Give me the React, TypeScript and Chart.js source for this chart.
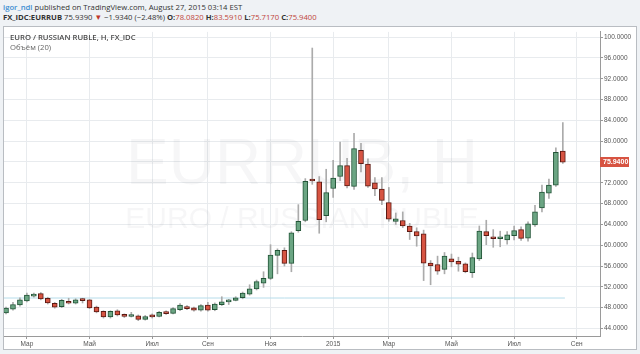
import React, { useEffect, useRef } from 'react';
import { Chart, registerables } from 'chart.js';

Chart.register(...registerables);

// Weekly candles, EUR/RUB, week of 2014-02-10 .. week of 2015-08-24 (index = week number)
const weekStarts = Array.from({ length: 81 }, (_, i) => `W${i}`);

const opens = [
  47.0, 47.7, 48.5, 49.3, 50.2, 50.7, 49.8, 48.85, 48.2, 49.2,
  48.85, 49.5, 49.5, 48.1, 47.3, 46.2, 47.4, 46.7, 46.3, 46.45,
  45.75, 46.6, 46.3, 47.15, 46.9, 47.6, 48.2, 47.97, 47.5, 48.5,
  47.6, 48.55, 49.1, 49.4, 49.9, 50.6, 51.6, 52.7, 53.6, 58.05,
  59.0, 56.5, 62.8, 64.75, 72.5, 72.2, 65.7, 70.9, 73.2, 75.3,
  71.3, 78.25, 75.6, 72.0, 70.8, 68.2, 64.55, 64.75, 63.7, 62.6,
  62.2, 56.55, 56.3, 55.35, 57.4, 56.9, 56.4, 54.7, 57.35, 62.6,
  61.5, 61.25, 61.0, 61.85, 63.0, 61.35, 63.9, 67.15, 70.0, 71.55,
  78.08,
];
const highs = [
  48.1, 49.0, 49.9, 50.8, 50.8, 50.9, 50.0, 49.0, 49.6, 49.8,
  49.7, 49.8, 49.6, 48.3, 47.4, 47.4, 47.6, 46.8, 47.1, 46.6,
  46.5, 46.8, 47.3, 47.4, 48.0, 48.8, 48.4, 48.1, 48.6, 49.0,
  48.9, 50.1, 49.6, 50.1, 51.0, 52.4, 53.3, 54.9, 60.1, 59.3,
  59.5, 62.6, 67.8, 72.8, 97.9, 73.2, 74.6, 76.3, 79.8, 76.7,
  81.5, 79.6, 76.6, 73.0, 73.0, 71.1, 66.2, 66.4, 64.2, 63.35,
  62.9, 57.05, 57.9, 58.6, 58.3, 57.7, 56.6, 58.5, 63.7, 64.8,
  63.0, 62.7, 62.6, 63.7, 63.55, 64.5, 67.65, 71.55, 72.7, 78.7,
  83.59,
];
const lows = [
  46.8, 47.5, 48.3, 49.1, 50.0, 49.5, 48.7, 47.9, 48.0, 48.7,
  48.7, 48.9, 47.8, 47.0, 46.0, 46.0, 46.4, 46.1, 46.2, 45.5,
  45.6, 46.0, 46.2, 46.7, 46.8, 47.4, 47.6, 47.3, 47.3, 47.3,
  47.4, 48.4, 48.6, 49.3, 49.7, 50.4, 51.4, 51.9, 53.4, 54.5,
  56.0, 54.9, 62.5, 64.5, 71.7, 62.3, 64.5, 69.2, 72.4, 71.0,
  70.7, 74.1, 71.1, 69.5, 67.8, 64.6, 64.0, 63.4, 61.1, 59.8,
  53.2, 52.4, 54.4, 54.5, 55.85, 55.0, 54.7, 53.8, 57.05, 60.1,
  59.6, 59.7, 60.2, 61.0, 60.9, 60.8, 63.6, 66.4, 69.0, 71.3,
  75.72,
];
const closes = [
  47.9, 48.6, 49.5, 50.4, 50.6, 49.7, 48.9, 48.1, 49.4, 48.85,
  49.5, 49.35, 47.97, 47.2, 46.2, 47.3, 46.6, 46.3, 46.5, 45.75,
  46.3, 46.2, 47.1, 46.85, 47.8, 48.5, 47.8, 47.5, 48.4, 47.5,
  48.7, 49.1, 49.3, 49.9, 50.8, 51.6, 53.0, 53.65, 58.1, 59.0,
  56.5, 62.4, 64.6, 72.3, 72.35, 64.9, 70.1, 72.9, 75.3, 71.4,
  78.55, 75.65, 71.35, 70.8, 68.6, 65.0, 65.05, 63.7, 62.6, 61.8,
  56.55, 56.0, 55.0, 57.9, 56.8, 56.35, 54.9, 57.6, 62.7, 61.85,
  61.25, 61.45, 62.0, 62.8, 61.3, 64.1, 66.4, 70.2, 71.55, 77.87,
  75.94,
];

const monthTickWeeks = [3, 12, 21, 29, 38, 47, 55, 64, 73, 82];
const monthTickLabels = ['Мар', 'Май', 'Июл', 'Сен', 'Ноя', '2015', 'Мар', 'Май', 'Июл', 'Сен'];
const priceTicks = [44, 48, 52, 56, 60, 64, 68, 72, 76, 80, 84, 88, 92, 96, 100];
const lastPrice = 75.94;
const levelValue = 49.85;
const levelSpan = [-0.3, 80.3];

const UP_FILL = '#6ba583';
const UP_LINE = '#225437';
const DN_FILL = '#d75442';
const DN_LINE = '#5b1a13';
const AXIS_FONT = '"Liberation Sans", Arial, sans-serif';

export default function App() {
  const ref = useRef<HTMLCanvasElement>(null);

  useEffect(() => {
    const canvas = ref.current!;
    const up = closes.map((c, i) => c >= opens[i]);
    const bodies = opens.map((o, i) => ({ x: i, y: [o, closes[i]] }));
    const wicks = lows.map((l, i) => ({ x: i, y: [l, highs[i]] }));

    const watermark = {
      id: 'watermark',
      beforeDatasetsDraw(chart: any) {
        const { ctx, chartArea } = chart;
        const cx = (chartArea.left + chartArea.right) / 2;
        ctx.save();
        ctx.fillStyle = 'rgba(90,100,110,0.055)';
        ctx.textAlign = 'center';
        ctx.textBaseline = 'alphabetic';
        ctx.font = '64px "Liberation Sans", Arial, sans-serif';
        ctx.fillText('EURRUB, H', cx, 157);
        ctx.font = '30px "Liberation Sans", Arial, sans-serif';
        ctx.fillText('EURO / RUSSIAN RUBLE', cx, 201);
        ctx.restore();
      },
    };

    const priceTag = {
      id: 'priceTag',
      afterDraw(chart: any) {
        const { ctx, chartArea, scales } = chart;
        const y = scales.y.getPixelForValue(lastPrice);
        const x0 = chartArea.right;
        ctx.save();
        ctx.fillStyle = DN_FILL;
        ctx.fillRect(x0, Math.round(y) - 5, 29, 10);
        ctx.fillStyle = '#ffffff';
        ctx.font = 'bold 7px "Liberation Sans", Arial, sans-serif';
        ctx.textAlign = 'left';
        ctx.textBaseline = 'middle';
        ctx.fillText(lastPrice.toFixed(4), x0 + 3, Math.round(y) + 0.5);
        ctx.restore();
      },
    };

    const chart = new Chart(canvas, {
      type: 'bar',
      data: {
        labels: weekStarts,
        datasets: [
          {
            type: 'line',
            data: levelSpan.map((x) => ({ x, y: levelValue })),
            borderColor: '#b6dcea',
            borderWidth: 1,
            pointRadius: 0,
            order: 3,
          } as any,
          {
            data: wicks,
            backgroundColor: '#ababab',
            barThickness: 1,
            grouped: false,
            order: 2,
          } as any,
          {
            data: bodies,
            backgroundColor: up.map((u) => (u ? UP_FILL : DN_FILL)),
            borderColor: up.map((u) => (u ? UP_LINE : DN_LINE)),
            borderWidth: 1,
            borderSkipped: false,
            barThickness: 5,
            minBarLength: 2,
            grouped: false,
            order: 1,
          } as any,
        ],
      },
      options: {
        responsive: false,
        animation: false,
        devicePixelRatio: 1,
        layout: { padding: 0 },
        plugins: { legend: { display: false }, tooltip: { enabled: false } },
        scales: {
          x: {
            type: 'linear',
            min: -0.29,
            max: 85.34,
            offset: false,
            afterBuildTicks: (scale: any) => {
              scale.ticks = monthTickWeeks.map((v) => ({ value: v }));
            },
            afterFit: (scale: any) => {
              scale.height = 13;
            },
            grid: { color: '#e8ebee', offset: false, tickLength: 3, tickColor: '#999' },
            border: { color: '#9a9a9a', width: 1 },
            ticks: {
              autoSkip: false,
              maxRotation: 0,
              padding: 1,
              color: '#555',
              font: { family: AXIS_FONT, size: 6.5 },
              callback: (_v: any, i: number) => monthTickLabels[i],
            },
          },
          y: {
            type: 'linear',
            position: 'right',
            min: 42.55,
            max: 101.0,
            afterBuildTicks: (scale: any) => {
              scale.ticks = priceTicks.map((v) => ({ value: v }));
            },
            afterFit: (scale: any) => {
              scale.width = 36;
            },
            grid: { color: '#e8ebee', tickLength: 3, tickColor: '#999' },
            border: { color: '#9a9a9a', width: 1 },
            ticks: {
              padding: 1,
              color: '#555',
              font: { family: AXIS_FONT, size: 6.5 },
              callback: (v: any) => Number(v).toFixed(4),
            },
          },
        },
      } as any,
      plugins: [watermark, priceTag],
    });
    return () => chart.destroy();
  }, []);

  const txt: React.CSSProperties = {
    position: 'absolute',
    whiteSpace: 'nowrap',
    fontFamily: '"Open Sans", sans-serif',
    fontSize: 7.7,
    lineHeight: '10px',
  };

  return (
    <div style={{ position: 'fixed', left: 0, top: 0, width: 640, height: 354, background: '#eff2f5', overflow: 'hidden' }}>
      <div style={{ ...txt, left: 3, top: 2, color: '#333' }}>
        <span style={{ color: '#3f8fd2', fontWeight: 600 }}>igor_ndl</span> published on TradingView.com, August 27, 2015 03:14 EST
      </div>
      <div style={{ ...txt, left: 3, top: 12, color: '#333', fontWeight: 700 }}>
        FX_IDC:EURRUB <span style={{ fontWeight: 400 }}>75.9390</span>{' '}
        <span style={{ color: '#c0392b' }}>▼</span> <span style={{ fontWeight: 400 }}>−1.9340 (−2.48%)</span>{' '}
        O:<span style={{ color: '#c0453a', fontWeight: 400 }}>78.0820</span> H:<span style={{ color: '#c0453a', fontWeight: 400 }}>83.5910</span>{' '}
        L:<span style={{ color: '#c0453a', fontWeight: 400 }}>75.7170</span> C:<span style={{ color: '#c0453a', fontWeight: 400 }}>75.9400</span>
      </div>
      <div style={{ position: 'absolute', left: 3, top: 26, width: 634, height: 324, boxSizing: 'border-box', border: '1px solid #b9bdc2', background: '#fff' }}>
        <canvas ref={ref} width={632} height={322} style={{ position: 'absolute', left: 0, top: 0, width: 632, height: 322 }} />
        <div style={{ ...txt, left: 6, top: 5, color: '#4a4a4a', fontWeight: 600 }}>EURO / RUSSIAN RUBLE, H, FX_IDC</div>
        <div style={{ ...txt, left: 6, top: 15, color: '#666' }}>Объём (20)</div>
      </div>
    </div>
  );
}
